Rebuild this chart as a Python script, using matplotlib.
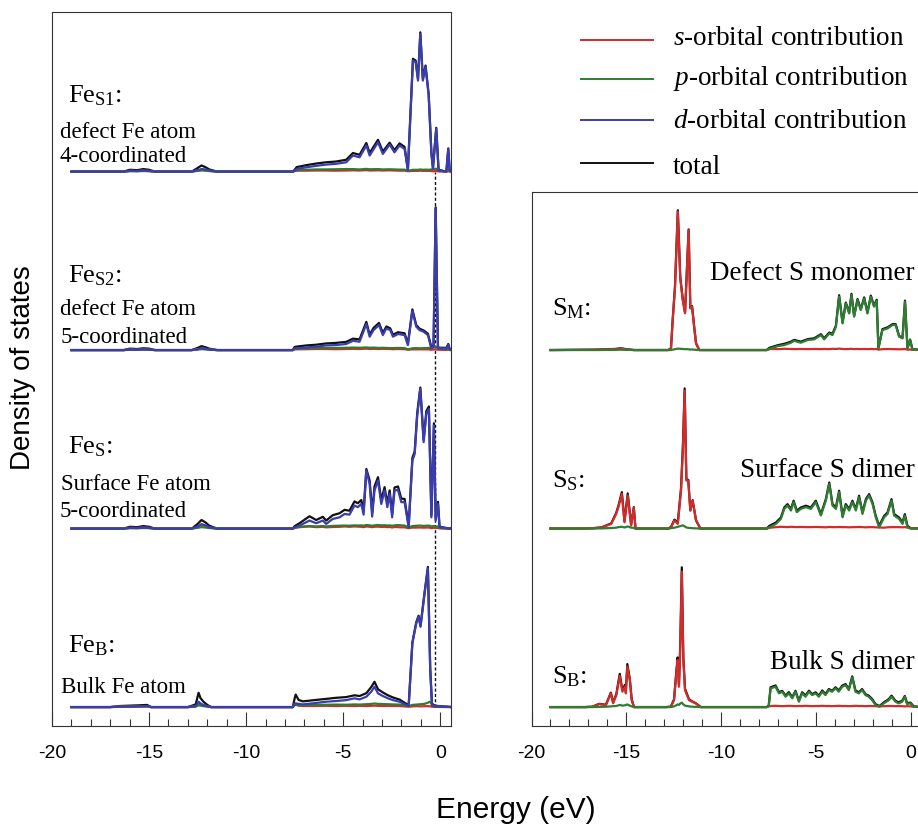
import matplotlib
matplotlib.use("Agg")
import numpy as np
import matplotlib.pyplot as plt
from matplotlib.lines import Line2D
from matplotlib.ticker import MultipleLocator

plt.rcParams['font.family'] = 'Liberation Sans'
plt.rcParams['mathtext.fontset'] = 'custom'
plt.rcParams['mathtext.rm'] = 'Liberation Serif'
plt.rcParams['mathtext.it'] = 'Liberation Serif:italic'
plt.rcParams['axes.unicode_minus'] = False

# ---------------- data (energy in eV, DOS in units of panel spacing) ----------------
fermi_level = -0.29

# Fe_S1 : defect Fe atom, 4-coordinated
fes1_e = [-19.0, -16.3, -16.0, -15.6, -15.3, -15.0, -14.7, -12.8, -12.5, -12.3, -12.1, -11.9, -11.5,
          -7.6, -7.5, -7.4, -6.9, -6.4, -5.9, -5.4, -4.85, -4.5, -4.16, -3.81, -3.64, -3.21, -2.96,
          -2.61, -2.36, -2.1, -1.84, -1.67, -1.41, -1.27, -1.15, -1.03, -0.9, -0.76, -0.6, -0.46,
          -0.38, -0.21, -0.09, 0.31, 0.41, 0.48, 0.6]
fes1_s = [0, 0, .004, .003, .005, .003, 0, 0, .006, .01, .008, .004, 0,
          0, .003, .005, .005, .006, .006, .005, .006, .007, .006, .008, .006, .007, .006,
          .007, .006, .005, .005, .002, .004, .004, .004, .005, .004, .004, .004, .003,
          .002, .003, .001, 0, .002, 0, 0]
fes1_p = [0, 0, .002, .002, .003, .002, 0, 0, .004, .006, .005, .003, 0,
          0, .004, .008, .01, .012, .012, .013, .014, .014, .012, .015, .013, .014, .012,
          .013, .012, .011, .011, .004, .01, .01, .01, .012, .01, .011, .01, .012,
          .014, .016, .006, 0, .01, .002, 0]
fes1_d = [0, 0, .004, .003, .006, .004, 0, 0, .008, .014, .012, .006, 0,
          0, .004, .015, .024, .032, .039, .043, .052, .09, .08, .146, .09, .164, .099,
          .151, .108, .146, .127, .006, .622, .613, .51, .771, .51, .585, .426, .099,
          .015, .239, .006, 0, .127, .006, 0]
fes1_tot = [0, 0, .01, .008, .014, .01, 0, 0, .02, .034, .025, .012, 0,
            0, .01, .025, .036, .045, .052, .056, .066, .104, .094, .16, .104, .178, .112,
            .162, .12, .158, .138, .012, .632, .622, .52, .78, .52, .594, .434, .108,
            .022, .245, .01, 0, .13, .008, 0]

# Fe_S2 : defect Fe atom, 5-coordinated
fes2_e = [-19.0, -16.3, -16.0, -15.6, -15.3, -15.0, -14.7, -12.8, -12.5, -12.3, -12.1, -11.9, -11.5,
          -7.6, -7.5, -6.9, -6.4, -5.9, -5.4, -4.85, -4.5, -4.16, -3.81, -3.64, -3.44, -3.16,
          -2.96, -2.78, -2.58, -2.44, -2.18, -1.84, -1.67, -1.44, -1.24, -1.07, -0.86, -0.64,
          -0.46, -0.35, -0.24, -0.12, 0.31, 0.41, 0.48, 0.6]
fes2_s = [0, 0, .003, .002, .004, .003, 0, 0, .005, .008, .006, .003, 0,
          0, .004, .005, .006, .006, .005, .006, .007, .006, .008, .006, .007, .006,
          .007, .006, .006, .005, .006, .005, .002, .004, .004, .004, .004, .004,
          .002, .003, .004, .002, .001, .002, 0, 0]
fes2_p = [0, 0, .002, .002, .003, .002, 0, 0, .003, .005, .004, .002, 0,
          0, .006, .009, .011, .012, .012, .013, .014, .013, .015, .013, .014, .012,
          .013, .012, .011, .011, .012, .011, .004, .01, .011, .01, .011, .012,
          .013, .015, .02, .012, .005, .008, .002, 0]
fes2_d = [0, 0, .003, .002, .004, .003, 0, 0, .005, .01, .008, .004, 0,
          0, .009, .015, .019, .026, .028, .034, .052, .047, .146, .075, .112, .14,
          .084, .121, .112, .075, .09, .084, .028, .22, .131, .112, .103, .084,
          .009, .02, .794, .009, .009, .03, .004, 0]
fes2_tot = [0, 0, .008, .006, .01, .008, 0, 0, .012, .022, .016, .008, 0,
            0, .018, .026, .03, .037, .04, .046, .064, .06, .158, .086, .124, .152,
            .096, .132, .122, .086, .1, .094, .036, .228, .14, .12, .11, .092,
            .016, .026, .8, .014, .012, .034, .006, 0]

# Fe_S : surface Fe atom, 5-coordinated
fes_e = [-19.0, -16.3, -16.0, -15.6, -15.3, -15.0, -14.7, -12.8, -12.5, -12.3, -12.1, -11.9, -11.5,
         -7.6, -7.5, -7.25, -6.74, -6.39, -6.05, -5.88, -5.54, -5.19, -4.93, -4.68, -4.42, -4.25,
         -4.07, -3.95, -3.81, -3.64, -3.51, -3.39, -3.21, -3.04, -2.87, -2.73, -2.61, -2.48,
         -2.36, -2.18, -2.01, -1.84, -1.63, -1.44, -1.32, -1.19, -1.03, -0.86, -0.72, -0.59,
         -0.46, -0.33, -0.24, -0.12, -0.04, 0.48, 0.6]
fes_s = [0, 0, .004, .003, .005, .004, 0, 0, .01, .02, .015, .006, 0,
         0, .004, .008, .012, .008, .01, .007, .009, .01, .012, .01, .012, .011,
         .01, .008, .012, .01, .008, .01, .011, .009, .01, .008, .009, .006,
         .009, .008, .007, .007, .002, .006, .005, .006, .006, .005, .006, .006,
         .003, .005, .003, .004, .001, 0, 0]
fes_p = [0, 0, .002, .002, .003, .002, 0, 0, .004, .008, .006, .003, 0,
         0, .005, .01, .014, .012, .014, .012, .015, .016, .017, .016, .018, .017,
         .018, .016, .02, .018, .016, .018, .02, .018, .019, .017, .018, .016,
         .018, .02, .018, .017, .006, .014, .015, .016, .017, .015, .016, .017,
         .012, .015, .01, .012, .004, 0, 0]
fes_d = [0, 0, .004, .003, .006, .004, 0, 0, .012, .025, .018, .008, 0,
         0, .007, .017, .045, .03, .045, .026, .054, .063, .082, .078, .129, .12,
         .138, .078, .325, .25, .067, .213, .269, .138, .213, .12, .194, .063,
         .213, .217, .148, .148, .007, .381, .418, .633, .782, .484, .642, .67,
         .063, .577, .045, .138, .007, 0, 0]
fes_tot = [0, 0, .01, .008, .014, .01, 0, 0, .026, .048, .035, .016, 0,
           0, .014, .03, .069, .048, .066, .045, .075, .086, .105, .1, .152, .142,
           .16, .1, .334, .27, .09, .236, .288, .16, .232, .14, .214, .082,
           .23, .236, .168, .166, .014, .396, .432, .648, .79, .498, .658, .684,
           .074, .59, .055, .15, .01, 0, 0]

# Fe_B : bulk Fe atom
feb_e = [-19.0, -17.0, -16.5, -16.0, -15.5, -15.1, -14.9, -13.0, -12.6, -12.45, -12.35, -12.2, -12.0,
         -11.8, -7.6, -7.5, -7.45, -7.3, -7.08, -6.57, -5.88, -5.36, -4.85, -4.42, -4.16, -3.81,
         -3.56, -3.39, -3.21, -2.96, -2.7, -2.44, -2.1, -1.63, -1.44, -1.24, -1.12, -1.02,
         -0.81, -0.64, -0.52, -0.43, -0.3, 0.6]
feb_s = [0, 0, .003, .004, .004, .005, 0, 0, .004, .02, .012, .008, .004,
         0, 0, .02, .015, .008, .006, .006, .007, .006, .007, .006, .007, .006,
         .007, .008, .007, .006, .007, .006, .006, .002, .004, .005, .005, .004,
         .005, .005, .004, .002, .001, 0]
feb_p = [0, 0, .002, .002, .003, .003, 0, 0, .003, .01, .008, .005, .003,
         0, 0, .012, .012, .01, .011, .012, .013, .014, .013, .015, .014, .016,
         .018, .02, .018, .017, .016, .015, .014, .006, .012, .014, .015, .016,
         .018, .025, .03, .012, .004, 0]
feb_d = [0, 0, .002, .003, .004, .005, 0, 0, .005, .03, .02, .012, .005,
         0, 0, .015, .021, .018, .015, .021, .03, .034, .039, .049, .043, .058,
         .086, .114, .077, .062, .049, .039, .03, .006, .357, .469, .506, .45,
         .637, .777, .207, .011, .004, 0]
feb_tot = [0, 0, .006, .008, .01, .012, 0, 0, .015, .08, .05, .03, .012,
           0, 0, .05, .07, .04, .032, .038, .046, .052, .056, .066, .062, .078,
           .112, .142, .1, .082, .066, .054, .042, .01, .362, .475, .512, .456,
           .643, .785, .215, .02, .008, 0]

# S_M : defect S monomer
sm_e = [-19.0, -16.8, -16.4, -16.0, -15.6, -15.3, -15.0, -14.6, -12.8, -12.65, -12.56, -12.44,
        -12.29, -12.16, -12.03, -11.91, -11.81, -11.72, -11.63, -11.54, -11.42, -11.33, -11.16,
        -7.6, -7.47, -7.38, -7.03, -6.68, -6.33, -6.16, -5.81, -5.45, -5.1, -4.75, -4.58, -4.31,
        -4.14, -3.96, -3.79, -3.61, -3.44, -3.26, -3.14, -3.0, -2.82, -2.65, -2.47, -2.3, -2.12,
        -1.95, -1.81, -1.72, -1.51, -1.24, -0.98, -0.81, -0.63, -0.45, -0.32, -0.19, -0.05,
        0.07, 0.6]
sm_s = [0, .002, .003, .004, .005, .008, .004, 0, 0, .01, .168, .35,
        .775, .4, .28, .206, .45, .672, .233, .243, .12, .037, 0,
        0, .004, .006, .005, .007, .006, .005, .006, .005, .006, .005, .006, .005,
        .007, .006, .008, .006, .005, .006, .007, .005, .006, .005, .006, .005, .006,
        .005, .006, .002, .005, .006, .005, .005, .004, .005, .006, .002, .003,
        .001, 0]
sm_p = [0, 0, 0, .001, .001, .002, .001, 0, 0, 0, .002, .005,
        .008, .007, .006, .005, .005, .004, .003, .003, .002, .001, 0,
        0, .009, .009, .022, .028, .041, .052, .041, .056, .06, .084, .06, .093,
        .084, .131, .299, .149, .261, .205, .308, .187, .28, .224, .289, .205, .299,
        .243, .276, .009, .112, .121, .14, .14, .075, .065, .271, .009, .056,
        .004, 0]
sm_tot = [0, .002, .003, .005, .006, .01, .005, 0, 0, .01, .17, .355,
          .783, .407, .286, .211, .455, .676, .236, .246, .122, .038, 0,
          0, .013, .015, .027, .035, .047, .057, .047, .061, .066, .089, .066, .098,
          .091, .137, .307, .155, .266, .211, .315, .192, .286, .229, .295, .21, .305,
          .248, .282, .011, .117, .127, .145, .145, .079, .07, .277, .011, .059,
          .005, 0]

# S_S : surface S dimer
ss_e = [-19.0, -17.2, -16.77, -16.3, -15.8, -15.54, -15.42, -15.24, -15.1, -14.93, -14.75, -14.61,
        -14.52, -14.3, -12.8, -12.65, -12.47, -12.29, -12.12, -12.02, -11.93, -11.84, -11.74,
        -11.63, -11.51, -11.33, -11.1, -7.6, -7.47, -7.12, -6.86, -6.68, -6.51, -6.33, -6.19,
        -6.02, -5.81, -5.54, -5.28, -5.02, -4.75, -4.49, -4.31, -4.14, -3.96, -3.79, -3.61,
        -3.44, -3.26, -3.09, -2.91, -2.74, -2.56, -2.38, -2.21, -2.03, -1.86, -1.68, -1.42,
        -1.24, -1.03, -0.89, -0.63, -0.45, -0.33, -0.19, -0.02, 0.6]
ss_s = [0, 0, .002, .006, .026, .082, .12, .194, .035, .185, .017, .116,
        0, 0, 0, .007, .045, .026, .213, .456, .773, .269, .269,
        .1, .157, .045, 0, 0, .004, .008, .01, .009, .008, .01, .009,
        .008, .009, .008, .008, .009, .008, .007, .009, .008, .008, .009, .008,
        .008, .007, .008, .008, .009, .008, .007, .008, .008, .007, .006, .005,
        .007, .008, .008, .008, .007, .008, .006, .002, 0]
ss_p = [0, 0, 0, .001, .003, .005, .008, .01, .006, .012, .005, .004,
        0, 0, 0, .002, .005, .01, .015, .018, .012, .006, .004,
        .003, .002, .001, 0, 0, .007, .026, .054, .11, .129, .101, .148,
        .092, .11, .12, .11, .148, .073, .157, .25, .129, .11, .204, .063,
        .129, .101, .148, .101, .176, .082, .157, .185, .138, .063, .007, .063,
        .082, .157, .073, .054, .026, .073, .007, 0, 0]
ss_tot = [0, 0, .002, .007, .029, .087, .128, .204, .041, .197, .022, .12,
          0, 0, 0, .009, .05, .036, .228, .474, .785, .275, .273,
          .103, .159, .046, 0, 0, .015, .034, .062, .118, .137, .109, .156,
          .1, .118, .128, .118, .156, .081, .165, .258, .137, .118, .212, .071,
          .137, .109, .156, .109, .184, .09, .165, .193, .146, .071, .015, .071,
          .09, .165, .081, .062, .034, .081, .015, .002, 0]

# S_B : bulk S dimer
sb_e = [-19.0, -17.2, -16.79, -16.44, -16.08, -15.82, -15.7, -15.53, -15.35, -15.21, -15.08, -15.03,
        -14.95, -14.82, -14.72, -14.6, -14.3, -12.9, -12.66, -12.49, -12.37, -12.3, -12.23,
        -12.16, -12.08, -12.0, -11.91, -11.7, -11.53, -11.35, -11.08, -7.6, -7.5, -7.4, -7.14,
        -6.96, -6.79, -6.61, -6.44, -6.26, -6.09, -5.91, -5.74, -5.56, -5.38, -5.21, -5.03,
        -4.86, -4.68, -4.51, -4.33, -4.16, -3.98, -3.81, -3.63, -3.45, -3.28, -3.1, -2.93,
        -2.75, -2.58, -2.4, -2.23, -2.05, -1.87, -1.66, -1.44, -1.17, -1.03, -0.82, -0.65,
        -0.47, -0.33, -0.21, -0.03, 0.14, 0.6]
sb_s = [0, 0, .002, .017, .011, .077, .021, .067, .174, .086, .114, .077,
        .226, .151, .039, 0, 0, 0, .002, .039, .189, .263, .114,
        .338, .758, .263, .095, .039, .03, .021, 0, 0, .004, .006, .007,
        .006, .005, .006, .007, .006, .005, .006, .006, .007, .006, .005, .006,
        .006, .007, .006, .006, .005, .006, .007, .006, .006, .005, .006, .007,
        .006, .006, .005, .006, .006, .005, .004, .005, .006, .006, .005, .006,
        .005, .004, .005, .004, .002, 0]
sb_p = [0, 0, 0, .001, .002, .004, .005, .006, .012, .008, .01, .012,
        .015, .008, .004, 0, 0, 0, 0, .004, .01, .015, .012,
        .02, .025, .015, .008, .004, .002, .001, 0, 0, .005, .105, .114,
        .077, .086, .058, .077, .049, .086, .03, .077, .058, .086, .067, .077,
        .058, .086, .067, .095, .086, .105, .086, .114, .123, .095, .166, .086,
        .077, .095, .067, .058, .039, .011, .002, .021, .039, .058, .03, .021,
        .03, .058, .017, .021, .002, 0]
sb_tot = [0, 0, .002, .018, .013, .081, .026, .073, .186, .094, .124, .089,
          .241, .159, .043, 0, 0, 0, .002, .043, .199, .278, .126,
          .358, .783, .278, .103, .043, .032, .022, 0, 0, .009, .111, .121,
          .083, .091, .064, .084, .055, .091, .036, .083, .065, .092, .072, .083,
          .064, .093, .073, .101, .091, .111, .093, .12, .129, .1, .172, .093,
          .083, .101, .072, .064, .045, .016, .006, .026, .045, .064, .035, .027,
          .035, .062, .022, .025, .004, 0]

fe_panels = [
    (fes1_e, fes1_s, fes1_p, fes1_d, fes1_tot),
    (fes2_e, fes2_s, fes2_p, fes2_d, fes2_tot),
    (fes_e, fes_s, fes_p, fes_d, fes_tot),
    (feb_e, feb_s, feb_p, feb_d, feb_tot),
]
s_panels = [
    (sm_e, sm_s, sm_p, None, sm_tot),
    (ss_e, ss_s, ss_p, None, ss_tot),
    (sb_e, sb_s, sb_p, None, sb_tot),
]

for panel in fe_panels + s_panels:
    n = len(panel[0])
    for arr in panel[1:]:
        if arr is not None and len(arr) != n:
            raise ValueError("length mismatch %d vs %d (%s)" % (len(arr), n, arr[:5]))

# ---------------- style ----------------
RED = '#d42a2a'
GREEN = '#2f7d32'
BLUE = '#3a3db0'
BLACK = '#111111'
LW = 1.6
SERIF = 'Liberation Serif'

W, H = 918, 826
fig = plt.figure(figsize=(W / 100, H / 100), dpi=100)


def fx(px):
    return px / W


def fy(py):
    return 1 - py / H


ax_fe = fig.add_axes([fx(52), fy(726), (451 - 52) / W, (726 - 12) / H])
ax_s = fig.add_axes([fx(531.5), fy(726), 390 / W, (726 - 191.7) / H])


def draw_panel(ax, panel, offset):
    e, s, p, d, tot = panel
    e = np.array(e)
    ax.plot(e, np.array(tot) + offset, color=BLACK, lw=LW, zorder=2)
    ax.plot(e, np.array(s) + offset, color=RED, lw=LW, zorder=3)
    ax.plot(e, np.array(p) + offset, color=GREEN, lw=LW, zorder=4)
    if d is not None:
        ax.plot(e, np.array(d) + offset, color=BLUE, lw=LW, zorder=5)


for i, panel in enumerate(fe_panels):
    draw_panel(ax_fe, panel, 3 - i)
for i, panel in enumerate(s_panels):
    draw_panel(ax_s, panel, 2 - i)

ax_fe.vlines(fermi_level, 0, 3, color=BLACK, lw=1.0, linestyles=(0, (2.2, 1.6)), zorder=1)

ax_fe.set_ylim(-0.106, 3.894)
ax_s.set_ylim(-0.106, 2.887)
for ax in (ax_fe, ax_s):
    ax.set_xlim(-20, 0.55)
    ax.xaxis.set_major_locator(MultipleLocator(5))
    ax.xaxis.set_minor_locator(MultipleLocator(1))
    ax.tick_params(axis='x', which='major', direction='in', length=10, width=0.8,
                   pad=14, labelsize=14, top=False, color='#333333')
    ax.tick_params(axis='x', which='minor', direction='in', length=5, width=0.8,
                   top=False, color='#333333')
    ax.set_yticks([])
    for sp in ax.spines.values():
        sp.set_linewidth(0.8)
        sp.set_color('#333333')

# panel labels (left)
fe_titles = [(r'Fe$_{\mathrm{S1}}$:', 102), (r'Fe$_{\mathrm{S2}}$:', 282),
             (r'Fe$_{\mathrm{S}}$:', 453), (r'Fe$_{\mathrm{B}}$:', 652)]
for txt, py in fe_titles:
    fig.text(fx(68), fy(py), txt, fontsize=19, family=SERIF, va='baseline')

fe_desc = [('defect Fe atom', 60, 138), ('4-coordinated', 59, 162),
           ('defect Fe atom', 60, 315), ('5-coordinated', 61, 343),
           ('Surface Fe atom', 61, 490), ('5-coordinated', 60, 517),
           ('Bulk Fe atom', 61, 693)]
for txt, px, py in fe_desc:
    fig.text(fx(px), fy(py), txt, fontsize=16.5, family=SERIF, va='baseline')

# panel labels (right)
s_titles = [(r'S$_{\mathrm{M}}$:', 315), (r'S$_{\mathrm{S}}$:', 487), (r'S$_{\mathrm{B}}$:', 683)]
for txt, py in s_titles:
    fig.text(fx(551.5), fy(py), txt, fontsize=19, family=SERIF, va='baseline')

s_desc = [('Defect S monomer', 280), ('Surface S dimer', 477), ('Bulk S dimer', 669)]
for txt, py in s_desc:
    fig.text(fx(915), fy(py), txt, fontsize=19.5, family=SERIF, va='baseline', ha='right')

# legend
legend_items = [(r'$s$-orbital contribution', RED, 40, 45),
                (r'$p$-orbital contribution', GREEN, 79, 85),
                (r'$d$-orbital contribution', BLUE, 120, 128),
                ('total', BLACK, 163, 174)]
for label, col, py_line, py_text in legend_items:
    fig.add_artist(Line2D([fx(581), fx(653)], [fy(py_line), fy(py_line)], color=col, lw=1.4))
    fig.text(fx(673), fy(py_text), label, fontsize=19.5, family=SERIF, va='baseline')

# axis titles
fig.text(fx(515.5), fy(818), 'Energy (eV)', fontsize=21.5, ha='center', va='baseline')
fig.text(fx(23), fy(367.5), 'Density of states', fontsize=20, rotation=90,
         ha='center', va='center')

fig.savefig('out.png', dpi=100)
